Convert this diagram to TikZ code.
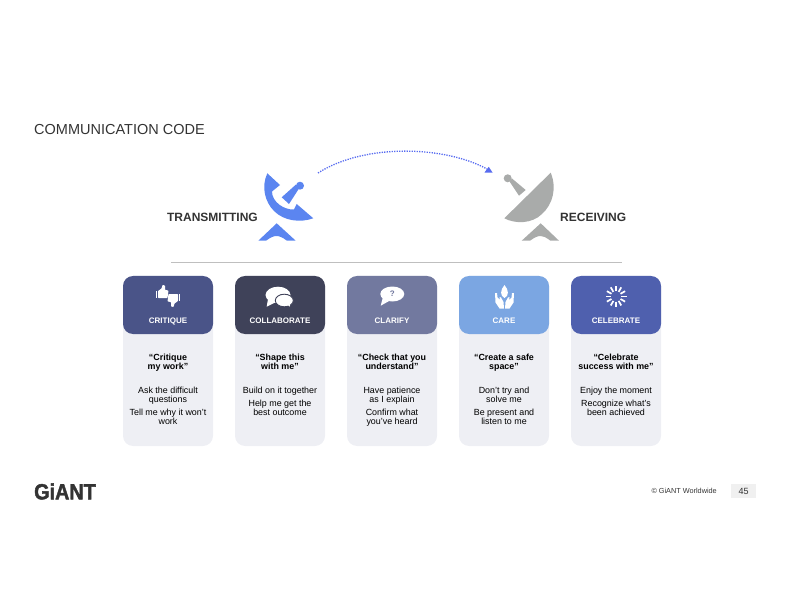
\documentclass[tikz,border=0pt]{standalone}
\usepackage{fontspec}
\setmainfont{Liberation Sans}
\newfontfamily\logofont{Liberation Sans}[BoldFeatures={FakeBold=2}]
\usetikzlibrary{arrows.meta, positioning}
\definecolor{critcol}{RGB}{74,84,136}
\definecolor{collabcol}{RGB}{63,66,89}
\definecolor{clarcol}{RGB}{114,121,159}
\definecolor{carecol}{RGB}{123,166,226}
\definecolor{celebcol}{RGB}{79,96,174}
\definecolor{cardcol}{RGB}{238,239,244}
\definecolor{txblue}{RGB}{91,133,240}
\definecolor{rxgray}{RGB}{169,171,170}
\definecolor{arcblue}{RGB}{88,108,240}
\definecolor{darktext}{RGB}{51,51,51}
\tikzset{
    cardbody/.style={fill=cardcol, rounded corners=10pt, minimum width=90pt, minimum height=170pt, inner sep=0pt, outer sep=0pt},
    cardhead/.style={rounded corners=10pt, minimum width=90pt, minimum height=58pt, inner sep=0pt, outer sep=0pt, anchor=north},
    cardlabel/.style={text=white, inner sep=0pt, outer sep=0pt, text height=6pt, text depth=0pt, font=\fontsize{8}{9}\selectfont\bfseries},
    cardquote/.style={inner sep=0pt, outer sep=0pt, align=center, font=\fontsize{8.9}{9}\selectfont\bfseries},
    cardtext/.style={inner sep=0pt, outer sep=0pt, align=center, font=\fontsize{8.9}{9}\selectfont},
    sidelabel/.style={text=darktext, inner sep=0pt, font=\fontsize{12}{14}\selectfont\bfseries}
}
\begin{document}
\begin{tikzpicture}[x=1pt, y=-1pt]
    \useasboundingbox (0,0) rectangle (792,612);

    \node[anchor=west, inner sep=0pt, text=darktext, font=\fontsize{14.5}{16}\selectfont] (title) at (34,129.5) {COMMUNICATION CODE};

    % transmitting dish
    \fill[txblue] (267.3,173.3) -- (280,185) -- (272,191.5) .. controls (272,202) and (284,210) .. (294,209.5)
        -- (296.7,204) -- (313.3,218.3) .. controls (300,223) and (284,221) .. (274,211)
        .. controls (265,202) and (261,187) .. cycle;
    \fill[txblue] (281.7,197.3) -- (296,184.5) -- (299,188.5) -- (289,204) -- cycle;
    \fill[txblue] (300,185.7) circle (4pt);
    \fill[txblue] (258.3,240.7) -- (276.7,223.3) -- (295.7,240.7) -- (287,240.7) .. controls (282,237) and (279,236) .. (276.7,236)
        .. controls (274,236) and (271,237) .. (266,240.7) -- cycle;
    \node[sidelabel, anchor=east] (txlabel) at (258,217.5) {TRANSMITTING};

    % receiving dish
    \fill[rxgray] (550.7,172.7) -- (504.3,218.3) .. controls (515,224) and (532,224) .. (542,214)
        .. controls (553,204) and (557,188) .. cycle;
    \fill[rxgray] (509.5,181.5) -- (512,178.5) -- (525.7,190) -- (519,195.7) -- cycle;
    \fill[rxgray] (507.7,178.3) circle (4pt);
    \fill[rxgray] (521.7,240.7) -- (540.7,223.3) -- (559,240.7) -- (550.5,240.7) .. controls (545.5,237) and (543,236) .. (540.7,236)
        .. controls (538,236) and (535,237) .. (530,240.7) -- cycle;
    \node[sidelabel, anchor=west] (rxlabel) at (560,217.5) {RECEIVING};

    % arc and rule
    \coordinate (arcstart) at (318,173);
    \coordinate (arcend) at (492.7,172.7);
    \draw[arcblue, line width=1.3pt, dash pattern=on 1.3pt off 1.2pt] (arcstart) .. controls (365,143) and (445,146) .. (487,169);
    \fill[arcblue] (arcend) -- (484.5,172.5) -- (488.7,166.8) -- cycle;
    \coordinate (rulestart) at (171,262);
    \coordinate (ruleend) at (622,262);
    \draw[black!25, line width=0.8pt] (rulestart) -- (ruleend);

    % cards
    \node[cardbody] (cardA) at (168,361) {};
    \node[cardbody, right=22pt of cardA] (cardB) {};
    \node[cardbody, right=22pt of cardB] (cardC) {};
    \node[cardbody, right=22pt of cardC] (cardD) {};
    \node[cardbody, right=22pt of cardD] (cardE) {};

    \node[cardhead, fill=critcol] (headA) at (cardA.north) {};
    \node[cardhead, fill=collabcol] (headB) at (cardB.north) {};
    \node[cardhead, fill=clarcol] (headC) at (cardC.north) {};
    \node[cardhead, fill=carecol] (headD) at (cardD.north) {};
    \node[cardhead, fill=celebcol] (headE) at (cardE.north) {};

    \node[cardlabel, above=11pt of headA.south] (labelA) {CRITIQUE};
    \node[cardlabel, above=11pt of headB.south] (labelB) {COLLABORATE};
    \node[cardlabel, above=11pt of headC.south] (labelC) {CLARIFY};
    \node[cardlabel, above=11pt of headD.south] (labelD) {CARE};
    \node[cardlabel, above=11pt of headE.south] (labelE) {CELEBRATE};

    \node[cardquote, below=20pt of headA.south] (quoteA) {“Critique\\my work”};
    \node[cardquote, below=20pt of headB.south] (quoteB) {“Shape this\\with me”};
    \node[cardquote, below=20pt of headC.south] (quoteC) {“Check that you\\understand”};
    \node[cardquote, below=20pt of headD.south] (quoteD) {“Create a safe\\space”};
    \node[cardquote, below=20pt of headE.south] (quoteE) {“Celebrate\\success with me”};

    \node[cardtext, below=53pt of headA.south] (textA) {Ask the difficult\\questions\\[4pt]Tell me why it won’t\\work};
    \node[cardtext, below=53pt of headB.south] (textB) {Build on it together\\[4pt]Help me get the\\best outcome};
    \node[cardtext, below=53pt of headC.south] (textC) {Have patience\\as I explain\\[4pt]Confirm what\\you’ve heard};
    \node[cardtext, below=53pt of headD.south] (textD) {Don’t try and\\solve me\\[4pt]Be present and\\listen to me};
    \node[cardtext, below=53pt of headE.south] (textE) {Enjoy the moment\\[4pt]Recognize what’s\\been achieved};

    % critique icon
    \fill[white] (155.7,291) rectangle (157.2,298);
    \fill[white, rounded corners=0.6pt] (158,291) -- (161.5,288.5) -- (162.5,285) -- (165,285.5) -- (165,290) -- (168.5,290.5) -- (167.5,298) -- (158,298) -- cycle;
    \fill[white] (180.3,301) rectangle (178.8,294);
    \fill[white, rounded corners=0.6pt] (178,301) -- (174.5,303.5) -- (173.5,307) -- (171,306.5) -- (171,302) -- (167.5,301.5) -- (168.5,294) -- (178,294) -- cycle;

    % collaborate icon
    \fill[white] (278,295) ellipse (12.5pt and 8.3pt);
    \fill[white] (268,299) -- (266.7,306.7) -- (276,302) -- cycle;
    \fill[white, draw=collabcol, line width=0.9pt] (284.3,300.5) ellipse (9pt and 6.3pt);
    \fill[white] (287,304.5) -- (290,306.7) -- (289.5,303) -- cycle;

    % clarify icon
    \fill[white] (392.3,294) ellipse (12pt and 7.5pt);
    \fill[white] (383,297) -- (380.7,305.7) -- (390,300.5) -- cycle;
    \node[inner sep=0pt, text=clarcol, font=\fontsize{8}{9}\selectfont\bfseries] (clarmark) at (392.3,294) {?};

    % care icon
    \fill[white] (504.5,285) .. controls (500,290) and (500,296) .. (504.5,298) .. controls (509,296) and (509,290) .. cycle;
    \fill[white] (495,293) -- (497,293) -- (497.5,297.5) -- (500,300) -- (499.5,297) -- (501,297.5) -- (503.5,302) -- (504,308.5) -- (499.5,308.5) -- (495.5,302.5) -- cycle;
    \fill[white] (514,293) -- (512,293) -- (511.5,297.5) -- (509,300) -- (509.5,297) -- (508,297.5) -- (505.5,302) -- (505,308.5) -- (509.5,308.5) -- (513.5,302.5) -- cycle;

    % celebrate icon
    \foreach \ang in {0,30,...,330}
        \draw[white, line width=1.7pt] (616,296.4) ++(\ang:5.2pt) -- ++(\ang:5.3pt);

    % footer
    \node[anchor=west, inner sep=0pt, text=darktext, xscale=0.9, font=\fontsize{22}{24}\logofont\selectfont\bfseries] (logo) at (34,491.5) {GiANT};
    \node[anchor=east, inner sep=0pt, text=darktext, font=\fontsize{7.3}{8}\selectfont] (copyright) at (717,491) {© GiANT Worldwide};
    \node[fill=black!6, minimum width=25pt, minimum height=14pt, inner sep=0pt, text=darktext, font=\fontsize{9}{10}\selectfont] (pagenum) at (743.5,491) {45};
\end{tikzpicture}
\end{document}
